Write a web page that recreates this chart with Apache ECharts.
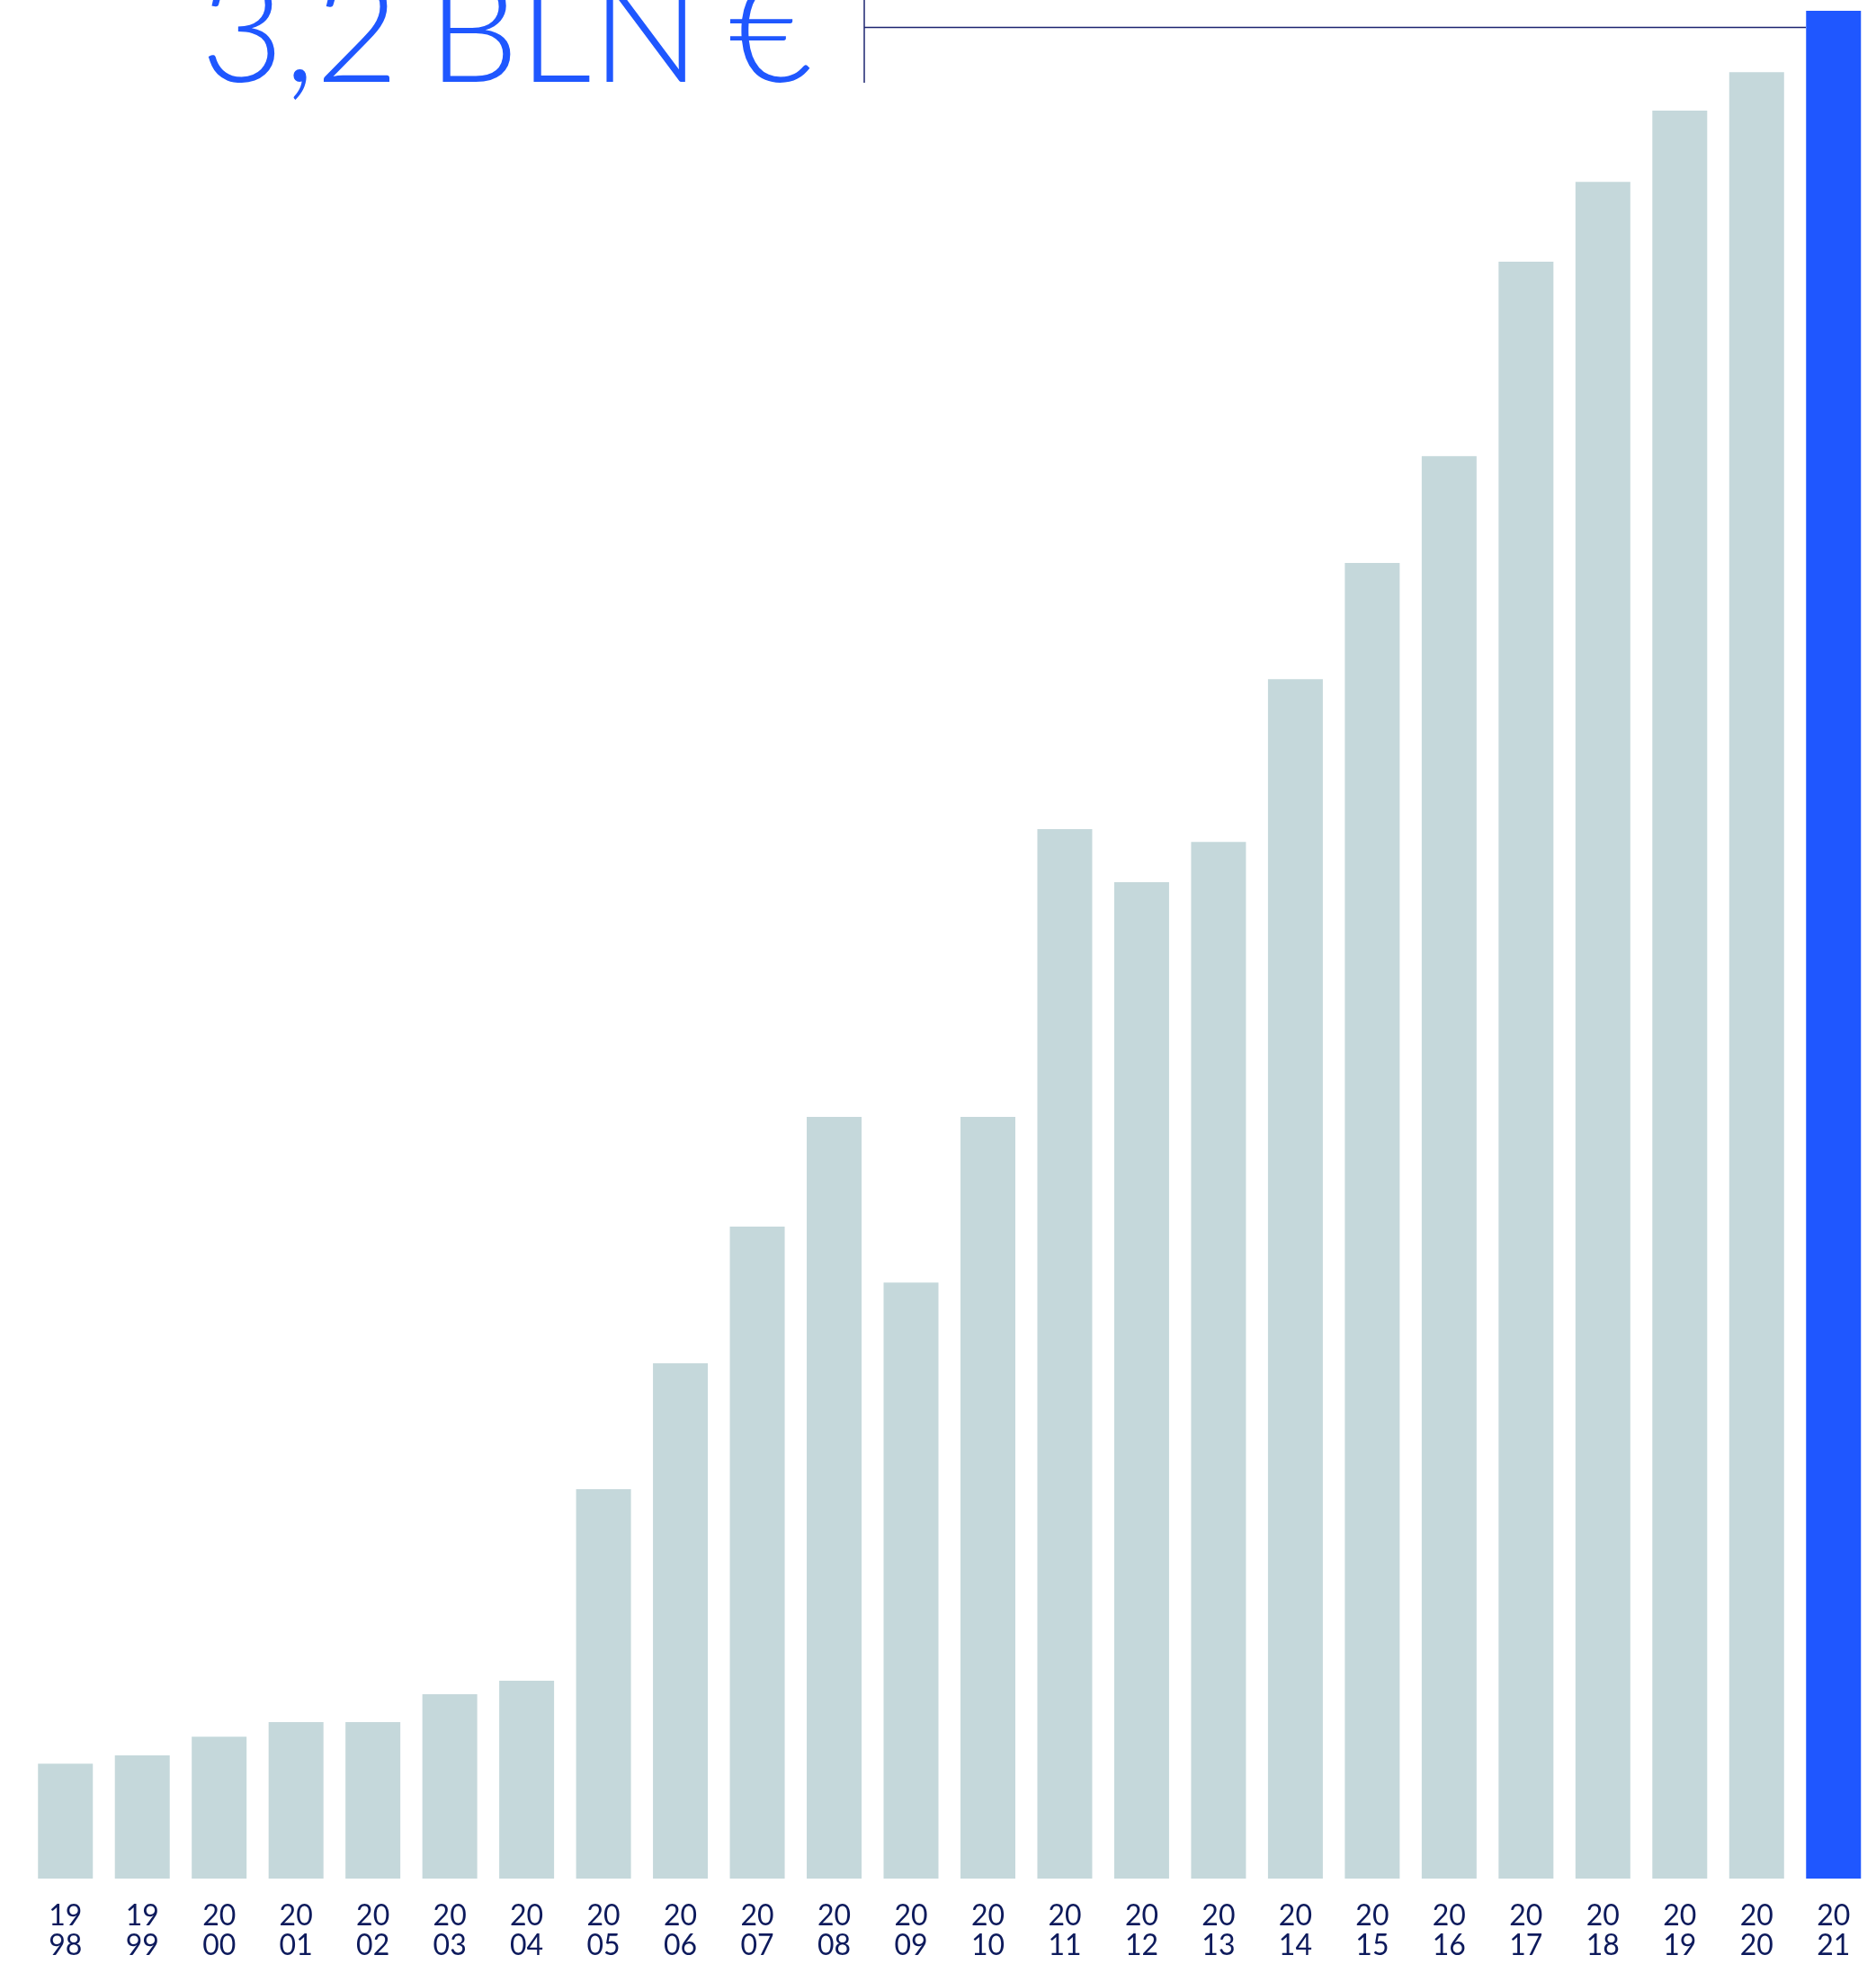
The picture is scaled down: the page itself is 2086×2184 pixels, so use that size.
<!DOCTYPE html>
<html>
<head>
<meta charset="utf-8">
<style>
  html, body { margin: 0; padding: 0; background: #ffffff; }
  #chart { width: 2086px; height: 2184px; }
</style>
<script src="https://cdn.jsdelivr.net/npm/echarts@6/dist/echarts.min.js"></script>
</head>
<body>
<div id="chart"></div>
<script>
const years = ['1998','1999','2000','2001','2002','2003','2004','2005','2006','2007','2008','2009','2010','2011','2012','2013','2014','2015','2016','2017','2018','2019','2020','2021'];
const values = [0.197,0.211,0.243,0.268,0.268,0.316,0.339,0.667,0.883,1.117,1.305,1.021,1.305,1.798,1.707,1.776,2.055,2.254,2.437,2.770,2.907,3.029,3.095,3.200];
const headlineParts = ['3,2', 'BLN', '€'];
const highlightYear = '2021';

const BAR = '#c5d8db';
const BLUE = '#1f57ff';
const NAVY = '#0d1a5c';

const chart = echarts.init(document.getElementById('chart'), null, { renderer: 'canvas' });

const headlineRich = headlineParts.map(p => '{t|' + p + '}').join('{s| }');

chart.setOption({
  backgroundColor: '#ffffff',
  animation: false,
  grid: { left: 30, right: 4.5, top: 12, bottom: 95, containLabel: false },
  xAxis: {
    type: 'category',
    data: years,
    axisLine: { show: false },
    axisTick: { show: false },
    axisLabel: {
      margin: 25,
      fontFamily: 'Lato',
      fontSize: 32,
      lineHeight: 33,
      color: NAVY,
      formatter: v => v.slice(0, 2) + '\n' + v.slice(2)
    }
  },
  yAxis: {
    type: 'value',
    min: 0,
    max: 3.2,
    show: false,
    splitLine: { show: false }
  },
  series: [{
    type: 'bar',
    barWidth: 61,
    data: values.map((v, i) => ({
      value: v,
      itemStyle: { color: years[i] === highlightYear ? BLUE : BAR }
    }))
  }],
  graphic: [
    {
      type: 'text',
      left: 223,
      top: -41,
      style: {
        text: headlineRich,
        fill: BLUE,
        rich: {
          t: { fontFamily: 'Lato', fontWeight: 300, fontSize: 160, color: BLUE, lineHeight: 160, verticalAlign: 'bottom' },
          s: { fontFamily: 'Lato', fontWeight: 300, fontSize: 118, color: BLUE, lineHeight: 160, verticalAlign: 'bottom' }
        }
      }
    },
    {
      type: 'line',
      shape: { x1: 961, y1: 0, x2: 961, y2: 92 },
      style: { stroke: '#1c2470', lineWidth: 1.5 }
    },
    {
      type: 'line',
      shape: { x1: 961, y1: 30.5, x2: 2008, y2: 30.5 },
      style: { stroke: '#1c2470', lineWidth: 1.5 }
    }
  ]
});
</script>
</body>
</html>
